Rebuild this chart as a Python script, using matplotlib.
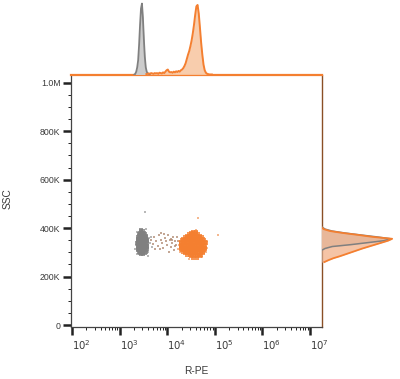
import matplotlib
matplotlib.use("Agg")
import matplotlib.pyplot as plt
import numpy as np
from matplotlib.ticker import FixedLocator, LogLocator, NullFormatter

# ---------------- data ----------------
# scatter clusters: rows of (SSC in K, list of log10(R-PE) values)
gray_rows = [
    (292, [3.45, 3.50]),
    (297, [3.42, 3.44, 3.49, 3.53]),
    (303, [3.40, 3.42, 3.46, 3.50, 3.55]),
    (309, [3.39, 3.41, 3.45, 3.48, 3.52, 3.56]),
    (315, [3.38, 3.40, 3.43, 3.47, 3.51, 3.54, 3.57]),
    (321, [3.39, 3.42, 3.45, 3.49, 3.53, 3.57]),
    (327, [3.38, 3.40, 3.44, 3.47, 3.50, 3.55, 3.58]),
    (333, [3.39, 3.41, 3.46, 3.49, 3.52, 3.56]),
    (339, [3.37, 3.39, 3.43, 3.47, 3.51, 3.54, 3.58]),
    (345, [3.39, 3.42, 3.45, 3.48, 3.53, 3.57]),
    (351, [3.38, 3.40, 3.44, 3.47, 3.50, 3.55, 3.58]),
    (357, [3.39, 3.41, 3.46, 3.49, 3.52, 3.56]),
    (363, [3.39, 3.42, 3.45, 3.48, 3.53, 3.56]),
    (369, [3.40, 3.44, 3.47, 3.51, 3.55]),
    (375, [3.41, 3.43, 3.46, 3.50, 3.54]),
    (381, [3.42, 3.47, 3.52]),
    (387, [3.44, 3.49]),
    (393, [3.46]),
]
gray_out_logx = [3.36, 3.59, 3.35, 3.61, 3.37, 3.55, 3.63, 3.65, 3.68, 3.54, 3.33, 3.60]
gray_out_ssc = [292, 300, 330, 360, 385, 398, 340, 365, 322, 466, 312, 285]

orange_rows = [
    (278, [4.55, 4.63]),
    (284, [4.49, 4.56, 4.62, 4.68]),
    (290, [4.42, 4.47, 4.52, 4.57, 4.62, 4.67, 4.72]),
    (296, [4.37, 4.42, 4.46, 4.51, 4.56, 4.61, 4.65, 4.70, 4.75]),
    (302, [4.33, 4.38, 4.43, 4.47, 4.52, 4.57, 4.61, 4.66, 4.71, 4.76]),
    (308, [4.31, 4.35, 4.40, 4.44, 4.49, 4.54, 4.58, 4.63, 4.67, 4.72, 4.77]),
    (314, [4.29, 4.33, 4.38, 4.42, 4.47, 4.51, 4.56, 4.60, 4.65, 4.69, 4.74, 4.79]),
    (320, [4.30, 4.35, 4.39, 4.44, 4.48, 4.53, 4.57, 4.62, 4.66, 4.71, 4.75, 4.80]),
    (326, [4.28, 4.32, 4.37, 4.41, 4.46, 4.50, 4.55, 4.59, 4.64, 4.68, 4.73, 4.78]),
    (332, [4.29, 4.34, 4.38, 4.43, 4.47, 4.52, 4.56, 4.61, 4.65, 4.70, 4.74, 4.80]),
    (338, [4.30, 4.35, 4.40, 4.44, 4.49, 4.53, 4.58, 4.62, 4.67, 4.71, 4.76, 4.81]),
    (344, [4.29, 4.33, 4.38, 4.42, 4.47, 4.51, 4.56, 4.60, 4.65, 4.69, 4.74, 4.79]),
    (350, [4.31, 4.36, 4.40, 4.45, 4.49, 4.54, 4.58, 4.63, 4.67, 4.72, 4.77]),
    (356, [4.34, 4.39, 4.43, 4.48, 4.52, 4.57, 4.61, 4.66, 4.70, 4.75]),
    (362, [4.37, 4.42, 4.46, 4.51, 4.55, 4.60, 4.64, 4.69, 4.73]),
    (368, [4.41, 4.45, 4.50, 4.54, 4.59, 4.63, 4.68]),
    (374, [4.45, 4.50, 4.54, 4.59, 4.64]),
    (380, [4.50, 4.55, 4.60]),
    (386, [4.55, 4.60]),
]
orange_out_logx = [4.25, 4.24, 4.22, 4.83, 4.84, 4.27, 4.46, 4.74, 4.60, 4.65, 5.07, 4.82]
orange_out_ssc = [330, 345, 315, 320, 345, 300, 272, 280, 392, 441, 371, 300]

mid_logx = [3.66, 3.70, 3.72, 3.76, 3.80, 3.82, 3.86, 3.90, 3.92, 3.95, 3.98, 4.00, 4.02,
            4.05, 4.07, 4.10, 4.12, 4.14, 4.16, 4.18, 4.20, 4.22, 3.88, 4.04, 3.74,
            3.94, 4.08, 4.17, 3.84, 4.11]
mid_ssc = [350, 335, 362, 345, 328, 370, 352, 338, 318, 360, 345, 330, 372,
           352, 322, 340, 362, 310, 348, 332, 365, 345, 380, 300, 312,
           375, 355, 325, 315, 350]

# top histogram (R-PE), bins in log10 units, counts normalised
gray_top_edges = [3.30 + 0.02 * i for i in range(18)]
gray_top_counts = [0.0, 0.01, 0.04, 0.10, 0.20, 0.42, 0.70, 0.93, 1.0, 0.80,
                   0.50, 0.25, 0.10, 0.04, 0.015, 0.01, 0.0]
orange_top_edges = [3.55 + 0.025 * i for i in range(57)]
orange_top_counts = [0.005, 0.01, 0.015, 0.01, 0.02, 0.015, 0.01, 0.02, 0.015, 0.02,
                     0.01, 0.025, 0.02, 0.015, 0.03, 0.02, 0.04, 0.06, 0.07, 0.04,
                     0.03, 0.035, 0.025, 0.04, 0.03, 0.045, 0.035, 0.05, 0.04, 0.06,
                     0.07, 0.09, 0.12, 0.16, 0.22, 0.28, 0.33, 0.40, 0.48, 0.58,
                     0.70, 0.84, 0.96, 0.98, 0.86, 0.66, 0.45, 0.28, 0.14, 0.06,
                     0.025, 0.01, 0.005, 0.0, 0.0, 0.0]

# right histogram (SSC), bins in K
right_edges = [256 + 8 * i for i in range(20)]
orange_right_counts = [0.04, 0.10, 0.17, 0.26, 0.34, 0.42, 0.50, 0.58, 0.67, 0.76,
                       0.85, 0.94, 1.0, 0.72, 0.52, 0.30, 0.12, 0.03, 0.0]
gray_right_counts = [0.0, 0.0, 0.0, 0.0, 0.0, 0.0, 0.0, 0.05, 0.15, 0.42,
                     0.65, 0.88, 0.98, 0.78, 0.55, 0.33, 0.15, 0.05, 0.01]

y_ticks = [0, 200e3, 400e3, 600e3, 800e3, 1.0e6]
y_tick_labels = ["0", "200K", "400K", "600K", "800K", "1.0M"]
x_decades = [2, 3, 4, 5, 6, 7]

# ---------------- style ----------------
ORANGE = "#f47f30"
ORANGE_FILL = "#f8c8a4"
GRAY = "#808080"
GRAY_FILL = "#cccccc"
TXT = "#3a3a3a"
plt.rcParams["font.family"] = ["Liberation Sans", "DejaVu Sans"]

W, H = 400, 379
fig = plt.figure(figsize=(W / 100, H / 100), dpi=100)
fig.patch.set_facecolor("white")

x0, x1 = 71, 321.5
y0, y1 = 74.5, 326.5
ax = fig.add_axes([x0 / W, 1 - y1 / H, (x1 - x0) / W, (y1 - y0) / H])
axt = fig.add_axes([x0 / W, 1 - y0 / H, (x1 - x0) / W, y0 / H], sharex=ax)
axr = fig.add_axes([x1 / W, 1 - y1 / H, (395 - x1) / W, (y1 - y0) / H], sharey=ax)

# ---------- main scatter ----------
gx = [10 ** v for ssc, row in gray_rows for v in row]
gy = [ssc * 1e3 for ssc, row in gray_rows for v in row]
ox = [10 ** v for ssc, row in orange_rows for v in row]
oy = [ssc * 1e3 for ssc, row in orange_rows for v in row]

ax.scatter([10 ** v for v in mid_logx], [s * 1e3 for s in mid_ssc], s=2.5, marker="s",
           color="#b08a72", linewidths=0, alpha=0.75)
ax.scatter([10 ** v for v in gray_out_logx], [s * 1e3 for s in gray_out_ssc], s=2.2,
           marker="s", color="#9a9a9a", linewidths=0, alpha=0.7)
ax.scatter([10 ** v for v in orange_out_logx], [s * 1e3 for s in orange_out_ssc], s=2.2,
           marker="s", color="#f29a60", linewidths=0, alpha=0.7)
ax.scatter(gx, gy, s=6.0, marker="s", color=GRAY, linewidths=0, alpha=0.8)
ax.scatter(ox, oy, s=6.0, marker="s", color=ORANGE, linewidths=0, alpha=0.8)

ax.set_xscale("log")
ax.set_xlim(10 ** 1.98, 10 ** 7.24)
ax.set_ylim(-6e3, 1.034e6)

ax.yaxis.set_major_locator(FixedLocator(y_ticks))
ax.set_yticklabels(y_tick_labels)
ax.yaxis.set_minor_locator(FixedLocator([v * 50e3 for v in range(21)]))
ax.xaxis.set_major_locator(FixedLocator([10 ** d for d in x_decades]))
ax.xaxis.set_minor_locator(LogLocator(base=10, subs=range(2, 10)))
ax.xaxis.set_minor_formatter(NullFormatter())
ax.set_xticklabels([r"$10^{%d}$" % d for d in x_decades])

ax.tick_params(axis="both", which="major", direction="out", length=5.5, width=1.8,
               color="#222222", labelcolor=TXT, labelsize=6.3, pad=2)
ax.tick_params(axis="x", which="major", labelsize=7.3, pad=3)
ax.tick_params(axis="both", which="minor", direction="out", length=2.5, width=0.7,
               color="#222222")
for lab in ax.get_xticklabels():
    lab.set_horizontalalignment("left")

for side in ["left", "bottom"]:
    ax.spines[side].set_color("#444444")
    ax.spines[side].set_linewidth(0.9)
ax.spines["top"].set_color(ORANGE)
ax.spines["top"].set_linewidth(1.6)
ax.spines["right"].set_color("#8a4f25")
ax.spines["right"].set_linewidth(1.0)

ax.set_xlabel("R-PE", fontsize=7.3, color=TXT, labelpad=10)
ax.set_ylabel("SSC", fontsize=7.3, color=TXT)
ax.yaxis.set_label_coords(-0.235, 0.506)


def centers(edges):
    return [(edges[i] + edges[i + 1]) / 2 for i in range(len(edges) - 1)]


# ---------- top histogram ----------
gtc = [10 ** c for c in centers(gray_top_edges)]
otc = [10 ** c for c in centers(orange_top_edges)]
axt.fill_between(gtc, 0, gray_top_counts, color=GRAY_FILL, zorder=1, linewidth=0)
axt.fill_between(otc, 0, orange_top_counts, color=ORANGE_FILL, alpha=0.9, zorder=2,
                 linewidth=0)
axt.plot(gtc, gray_top_counts, color=GRAY, linewidth=1.3, zorder=3)
axt.plot(otc, orange_top_counts, color=ORANGE, linewidth=1.4, zorder=4)
axt.set_ylim(0, 1.05)
axt.axis("off")

# ---------- right histogram ----------
rc = [c * 1e3 for c in centers(right_edges)]
axr.fill_betweenx(rc, 0, gray_right_counts, color=GRAY_FILL, zorder=1, linewidth=0)
axr.fill_betweenx(rc, 0, orange_right_counts, color="#f2b088", alpha=0.75, zorder=2,
                  linewidth=0)
axr.plot(gray_right_counts, rc, color=GRAY, linewidth=1.1, zorder=3)
axr.plot(orange_right_counts, rc, color=ORANGE, linewidth=1.3, zorder=4)
axr.set_xlim(0, 1.04)
axr.axis("off")

fig.savefig("out.png", dpi=100, facecolor="white")
